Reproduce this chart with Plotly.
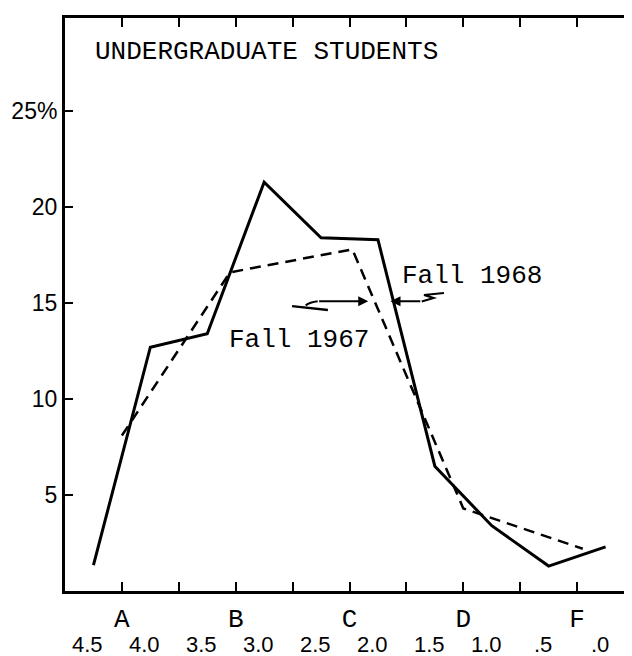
import plotly.graph_objects as go

# ---- data ----
grade_ticks = [1, 2, 3, 4, 5, 6, 7, 8, 9]
grade_letters = ["A", "", "B", "", "C", "", "D", "", "F"]
gpa_labels = ["4.5", "4.0", "3.5", "3.0", "2.5", "2.0", "1.5", "1.0", ".5", ".0"]

fall1968_x = [0.5, 1.5, 2.5, 3.5, 4.5, 5.5, 6.5, 7.5, 8.5, 9.5]
fall1968_pct = [1.35, 12.7, 13.4, 21.3, 18.4, 18.3, 6.5, 3.4, 1.3, 2.3]

fall1967_x = [1, 2.9, 5.05, 7, 9.1]          # A, B, C, D, F
fall1967_pct = [8.1, 16.6, 17.8, 4.3, 2.2]

y_ticks = [5, 10, 15, 20, 25]
y_ticktext = ["5", "10", "15", "20", "25%"]

MONO = "Liberation Mono, Courier New, monospace"
SANS = "Liberation Sans, Arial, sans-serif"

fig = go.Figure()
fig.add_trace(go.Scatter(x=fall1968_x, y=fall1968_pct, mode="lines",
                         line=dict(color="black", width=3), name="Fall 1968",
                         showlegend=False))
fig.add_trace(go.Scatter(x=fall1967_x, y=fall1967_pct, mode="lines",
                         line=dict(color="black", width=2.5, dash="11px,7px"),
                         name="Fall 1967", showlegend=False))

annotations = [
    dict(text="UNDERGRADUATE STUDENTS", xref="paper", yref="paper", x=0.05, y=0.9407,
         xanchor="left", yanchor="middle", showarrow=False,
         font=dict(family=MONO, size=26, color="black")),
    dict(text="Fall 1968", xref="x", yref="y", x=5.89, y=16.4, xanchor="left",
         yanchor="middle", showarrow=False, font=dict(family=MONO, size=26, color="black")),
    dict(text="Fall 1967", xref="x", yref="y", x=2.84, y=13.1, xanchor="left",
         yanchor="middle", showarrow=False, font=dict(family=MONO, size=26, color="black")),
    # arrows
    dict(text="", x=5.72, y=15.1, ax=6.27, ay=15.1, xref="x", yref="y", axref="x", ayref="y",
         showarrow=True, arrowhead=2, arrowsize=1, arrowwidth=2, arrowcolor="black", standoff=0),
    dict(text="", x=5.33, y=15.1, ax=4.44, ay=15.1, xref="x", yref="y", axref="x", ayref="y",
         showarrow=True, arrowhead=2, arrowsize=1, arrowwidth=2, arrowcolor="black", standoff=0),
]
for i, lab in enumerate(gpa_labels):
    annotations.append(dict(text=lab, xref="x", yref="paper", x=i + 0.4, y=0,
                            yshift=-53, xanchor="center", yanchor="middle", showarrow=False,
                            font=dict(family=SANS, size=22, color="black")))

shapes = [
    dict(type="path", xref="x", yref="y",
         path="M 6.27,15.08 L 6.48,15.26 L 6.31,15.42 L 6.66,15.52",
         line=dict(color="black", width=2)),
    dict(type="path", xref="x", yref="y",
         path="M 4.44,15.1 Q 4.3,15.05 4.23,14.88",
         line=dict(color="black", width=2)),
    dict(type="path", xref="x", yref="y",
         path="M 3.99,14.84 L 4.62,14.64",
         line=dict(color="black", width=2.5)),
]

fig.update_layout(
    width=632, height=656,
    margin=dict(l=55, r=3, t=10, b=73),
    paper_bgcolor="white", plot_bgcolor="white",
    annotations=annotations, shapes=shapes,
    xaxis=dict(range=[0, 10], tickvals=grade_ticks, ticktext=grade_letters,
               ticks="inside", ticklen=9, tickwidth=2, tickcolor="black",
               showline=True, linewidth=3, linecolor="black", mirror="ticks",
               showgrid=False, zeroline=False, ticklabelstandoff=2,
               tickfont=dict(family=MONO, size=26, color="black")),
    yaxis=dict(range=[0, 29.85], tickvals=y_ticks, ticktext=y_ticktext,
               ticks="inside", ticklen=8, tickwidth=2, tickcolor="black",
               showline=True, linewidth=3, linecolor="black", mirror="ticks",
               showgrid=False, zeroline=False, ticklabelstandoff=0,
               tickfont=dict(family=SANS, size=23, color="black")),
)

fig.write_html("out.html")
